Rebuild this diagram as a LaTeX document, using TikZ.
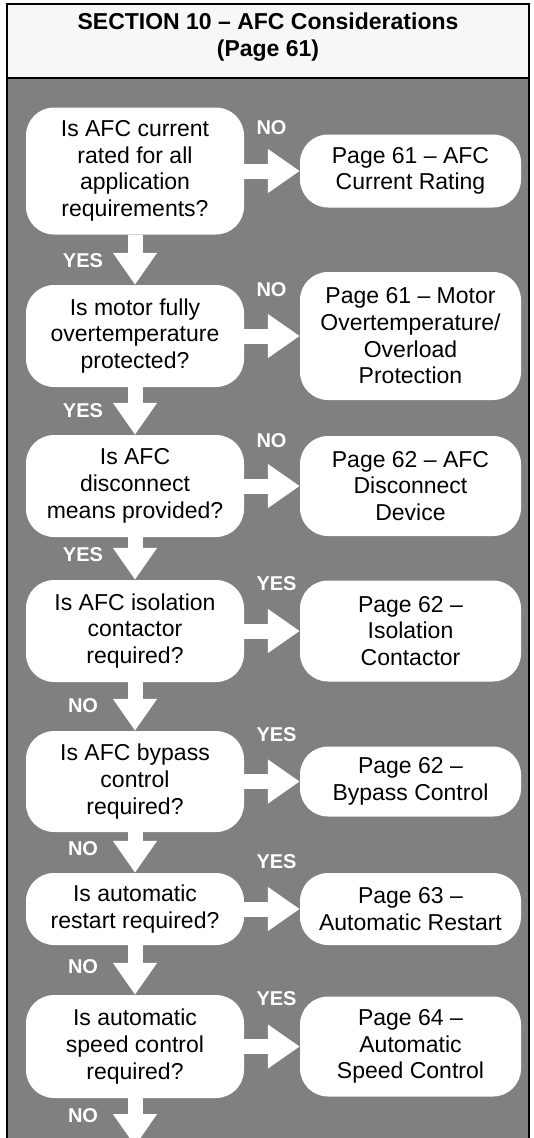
\documentclass[tikz,border=0pt]{standalone}
\usepackage{fontspec}
\setmainfont{Liberation Sans}
\usepackage{xcolor}
\usepackage{tikz}
\usetikzlibrary{arrows.meta}
\definecolor{headgray}{HTML}{F7F7F7}
\definecolor{bodygray}{HTML}{808080}
\tikzset{every node/.append style={font=\fontsize{23}{26.7}\selectfont}}
\tikzset{
  question/.style={fill=white, rounded corners=28pt, align=center, inner sep=0pt, minimum width=218pt},
  answer/.style={question, minimum width=221pt},
  reply/.style={text=white, font=\bfseries\fontsize{20}{24}\selectfont},
  flowarrow/.style={white, line width=15pt, -{Triangle[length=32pt, width=42pt]}}
}

\begin{document}
\begin{tikzpicture}[x=1pt, y=-1pt]
    \useasboundingbox (0,0) rectangle (533,1138);
    \clip (0,0) rectangle (533,1138);
    \draw[line width=2pt, fill=headgray] (7,4) rectangle (529,78);
    \draw[line width=2pt, fill=bodygray] (7,78) rectangle (529,1150);
    \node[align=center, font=\bfseries\fontsize{23}{27}\selectfont] (title) at (268,37) {SECTION 10 -- AFC Considerations\\(Page 61)};

    \node[question, minimum height=127pt] (q1) at (135,171) {Is AFC current\\rated for all\\application\\requirements?};
    \node[answer, minimum height=73pt] (p1) at (410.5,171) {Page 61 -- AFC\\Current Rating};
    \node[question, minimum height=102pt] (q2) at (135,336) {Is motor fully\\overtemperature\\protected?};
    \node[answer, minimum height=128pt] (p2) at (410.5,336) {Page 61 -- Motor\\Overtemperature/\\Overload\\Protection};
    \node[question, minimum height=102pt] (q3) at (135,486) {Is AFC\\disconnect\\means provided?};
    \node[answer, minimum height=100pt] (p3) at (410.5,486) {Page 62 -- AFC\\Disconnect\\Device};
    \node[question, minimum height=102pt] (q4) at (135,631) {Is AFC isolation\\contactor\\required?};
    \node[answer, minimum height=101pt] (p4) at (410.5,631) {Page 62 --\\Isolation\\Contactor};
    \node[question, minimum height=101pt] (q5) at (135,781.5) {Is AFC bypass\\control\\required?};
    \node[answer, minimum height=70pt] (p5) at (410.5,781.5) {Page 62 --\\Bypass Control};
    \node[question, minimum height=72pt] (q6) at (135,909) {Is automatic\\restart required?};
    \node[answer, minimum height=72pt] (p6) at (410.5,909) {Page 63 --\\Automatic Restart};
    \node[question, minimum height=103pt] (q7) at (135,1046.5) {Is automatic\\speed control\\required?};
    \node[answer, minimum height=100pt] (p7) at (410.5,1046.5) {Page 64 --\\Automatic\\Speed Control};
    \coordinate (out) at (135,1146);

    \draw[flowarrow] (q1) -- (p1);
    \draw[flowarrow] (q2) -- (p2);
    \draw[flowarrow] (q3) -- (p3);
    \draw[flowarrow] (q4) -- (p4);
    \draw[flowarrow] (q5) -- (p5);
    \draw[flowarrow] (q6) -- (p6);
    \draw[flowarrow] (q7) -- (p7);
    \draw[flowarrow] (q1) -- (q2);
    \draw[flowarrow] (q2) -- (q3);
    \draw[flowarrow] (q3) -- (q4);
    \draw[flowarrow] (q4) -- (q5);
    \draw[flowarrow] (q5) -- (q6);
    \draw[flowarrow] (q6) -- (q7);
    \draw[flowarrow] (q7) -- (out);

    \node[reply, anchor=west] (n1) at (253,128) {NO};
    \node[reply, anchor=west] (n2) at (253,290) {NO};
    \node[reply, anchor=west] (n3) at (253,441) {NO};
    \node[reply, anchor=west] (y4) at (253,584) {YES};
    \node[reply, anchor=west] (y5) at (253,735) {YES};
    \node[reply, anchor=west] (y6) at (253,862) {YES};
    \node[reply, anchor=west] (y7) at (253,999) {YES};
    \node[reply] (y12) at (83,261) {YES};
    \node[reply] (y23) at (83,411) {YES};
    \node[reply] (y34) at (83,555) {YES};
    \node[reply] (n45) at (83,706) {NO};
    \node[reply] (n56) at (83,849) {NO};
    \node[reply] (n67) at (83,967) {NO};
    \node[reply] (n7) at (83,1116) {NO};
\end{tikzpicture}
\end{document}
